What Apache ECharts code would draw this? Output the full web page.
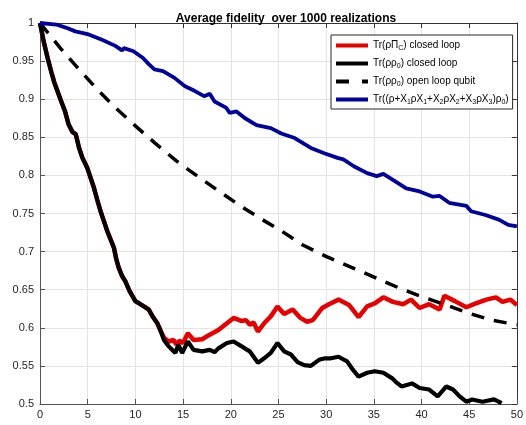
<!DOCTYPE html>
<html>
<head>
<meta charset="utf-8">
<title>Average fidelity</title>
<script src="https://cdn.jsdelivr.net/npm/echarts@6/dist/echarts.min.js"></script>
<style>
  html, body { margin: 0; padding: 0; background: #fff; }
  #echartsMain { width: 526px; height: 425px; }
</style>
</head>
<body>
<div id="echartsMain"></div>
<script>
// x 刻度 / y 刻度
var xTicks = [0, 5, 10, 15, 20, 25, 30, 35, 40, 45, 50];
var yTicks = [0.5, 0.55, 0.6, 0.65, 0.7, 0.75, 0.8, 0.85, 0.9, 0.95, 1];

var seriesNames = [
  "Tr(ρΠC) closed loop",
  "Tr(ρρ0) closed loop",
  "Tr(ρρ0) open loop qubit",
  "Tr((ρ+X1ρX1+X2ρX2+X3ρX3)ρ0)"
];

// 红线与黑线在前段重合
var sharedStart = [
  [0, 1], [0.4, 0.975], [0.8, 0.954], [1.2, 0.935], [1.5, 0.922], [2.2, 0.898],
  [2.6, 0.885], [3.0, 0.867], [3.4, 0.857], [3.75, 0.854], [4.1, 0.836], [4.45, 0.823],
  [4.95, 0.81], [5.3, 0.797], [5.65, 0.784], [6.0, 0.768], [6.35, 0.753], [6.7, 0.74],
  [7.05, 0.727], [7.4, 0.716], [7.75, 0.705], [8.0, 0.69], [8.25, 0.679], [8.6, 0.668],
  [8.95, 0.661], [9.4, 0.648], [10.0, 0.635], [10.4, 0.632], [10.9, 0.628], [11.4, 0.624],
  [11.8, 0.615], [12.3, 0.606]
];

var projClosed = [
  [12.7, 0.595], [13.0, 0.587], [13.5, 0.582], [14.0, 0.584], [14.3, 0.578], [14.6, 0.583],
  [15.0, 0.58], [15.5, 0.593], [16.1, 0.584], [17.0, 0.585], [17.8, 0.591], [18.7, 0.597],
  [19.6, 0.606], [20.3, 0.613], [21.1, 0.609], [21.6, 0.61], [22.0, 0.604], [22.4, 0.607],
  [22.85, 0.595], [23.5, 0.606], [24.2, 0.615], [24.9, 0.628], [25.6, 0.618], [26.5, 0.624],
  [27.3, 0.613], [28.0, 0.608], [28.6, 0.61], [29.6, 0.626], [30.3, 0.631], [31.3, 0.637],
  [32.4, 0.63], [33.4, 0.614], [34.3, 0.628], [35.1, 0.632], [36.0, 0.64], [37.0, 0.634],
  [38.1, 0.631], [38.9, 0.637], [39.8, 0.626], [40.8, 0.631], [41.9, 0.624], [42.4, 0.642],
  [43.5, 0.635], [44.7, 0.627], [45.7, 0.632], [46.8, 0.637], [47.8, 0.64], [48.5, 0.634],
  [49.3, 0.637], [50, 0.63]
];

var fidClosed = [
  [12.7, 0.594], [13.0, 0.584], [13.4, 0.577], [13.7, 0.573], [14.2, 0.567], [14.5, 0.578],
  [14.9, 0.567], [15.5, 0.582], [16.1, 0.571], [17.0, 0.569], [17.8, 0.571], [18.3, 0.568],
  [18.7, 0.573], [19.6, 0.58], [20.3, 0.582], [21.1, 0.576], [21.6, 0.572], [22.0, 0.569],
  [22.4, 0.562], [22.85, 0.554], [23.5, 0.56], [24.2, 0.567], [24.9, 0.58], [25.6, 0.569],
  [26.3, 0.565], [27.0, 0.555], [27.7, 0.551], [28.4, 0.55], [29.25, 0.558], [29.9, 0.56],
  [30.5, 0.56], [31.3, 0.562], [32.2, 0.556], [32.8, 0.545], [33.4, 0.536], [34.3, 0.541],
  [35.1, 0.543], [36.0, 0.541], [36.9, 0.534], [37.4, 0.528], [37.9, 0.523], [39.0, 0.527],
  [39.8, 0.521], [40.8, 0.519], [41.7, 0.51], [42.6, 0.523], [43.3, 0.519], [44.0, 0.51],
  [44.7, 0.503], [45.3, 0.506], [46.4, 0.503], [47.6, 0.506], [48.4, 0.501]
];

var fidOpen = [
  [0, 1], [2.2, 0.966], [4.1, 0.939], [6.0, 0.913], [7.9, 0.889], [10.0, 0.865],
  [12.0, 0.843], [14.3, 0.819], [16.5, 0.799], [18.8, 0.779], [21.0, 0.76], [23.3, 0.742],
  [25.2, 0.728], [27.5, 0.709], [30.1, 0.693], [32.9, 0.678], [35.3, 0.665], [37.7, 0.652],
  [40.2, 0.64], [42.6, 0.63], [45.0, 0.619], [47.4, 0.61], [50, 0.604]
];

var fidRecovered = [
  [0, 1], [1.7, 0.998], [2.7, 0.994], [3.7, 0.989], [5.1, 0.985], [6.5, 0.978],
  [7.9, 0.97], [8.6, 0.964], [8.8, 0.967], [9.8, 0.963], [10.8, 0.954], [11.4, 0.946],
  [12.0, 0.939], [12.9, 0.937], [14.1, 0.928], [15.2, 0.917], [16.2, 0.911], [17.2, 0.904],
  [17.8, 0.907], [18.3, 0.897], [19.5, 0.889], [19.9, 0.882], [20.6, 0.884], [21.5, 0.875],
  [22.7, 0.866], [24.2, 0.862], [25.3, 0.855], [26.7, 0.849], [28.4, 0.836], [29.8, 0.829],
  [31.2, 0.823], [31.8, 0.821], [32.9, 0.812], [34.3, 0.803], [35.3, 0.799], [36.0, 0.802],
  [37.0, 0.794], [38.4, 0.783], [39.8, 0.779], [41.2, 0.772], [41.9, 0.773], [42.9, 0.764],
  [44.7, 0.76], [45.2, 0.753], [46.7, 0.748], [48.1, 0.742], [49.1, 0.735], [50, 0.733]
];

// 图例里的下标写法
var legendRich = {};
legendRich[seriesNames[0]] = "Tr(ρΠ{s|C}) closed loop";
legendRich[seriesNames[1]] = "Tr(ρρ{s|0}) closed loop";
legendRich[seriesNames[2]] = "Tr(ρρ{s|0}) open loop qubit";
legendRich[seriesNames[3]] = "Tr((ρ+X{s|1}ρX{s|1}+X{s|2}ρX{s|2}+X{s|3}ρX{s|3})ρ{s|0})";

function init() {
  var myChart = echarts.init(document.getElementById("echartsMain"));
  var font = "'Liberation Sans', Arial, sans-serif";
  var axisColor = "#555";
  var tickFmt = function (v) { return String(parseFloat(v.toFixed(2))); };

  var baseX = {
    type: "value", min: xTicks[0], max: xTicks[xTicks.length - 1], interval: 5
  };
  var baseY = {
    type: "value", min: yTicks[0], max: yTicks[yTicks.length - 1], interval: 0.05
  };

  var solidIcon = "path://M0,0h32v4h-32z";
  var dashIcon = "path://M0,0h13v4h-13zM26,0h6v4h-6z";

  var option = {
    animation: false,
    backgroundColor: "#fff",
    title: {
      text: "Average fidelity  over 1000 realizations",
      left: 281,
      top: 8,
      textAlign: "center",
      textStyle: { fontFamily: font, fontSize: 12, fontWeight: "bold", color: "#000" }
    },
    grid: { left: 40, right: 5, top: 23, bottom: 21, containLabel: false },
    legend: {
      orient: "vertical",
      left: 331,
      top: 35,
      padding: [4, 4, 3, 5],
      itemGap: 5,
      itemWidth: 32,
      itemHeight: 4,
      borderColor: "#262626",
      borderWidth: 1,
      backgroundColor: "#fff",
      itemStyle: { borderWidth: 0 },
      lineStyle: { type: "solid" },
      data: [
        { name: seriesNames[0], icon: solidIcon },
        { name: seriesNames[1], icon: solidIcon },
        { name: seriesNames[2], icon: dashIcon, itemStyle: { borderWidth: 0 } },
        { name: seriesNames[3], icon: solidIcon }
      ],
      formatter: function (name) { return legendRich[name]; },
      textStyle: {
        fontFamily: font, fontSize: 10, color: "#000", lineHeight: 13,
        rich: {
          s: { fontFamily: font, fontSize: 7, lineHeight: 7, padding: [6, 0, 0, 0], verticalAlign: "top" }
        }
      }
    },
    xAxis: [
      Object.assign({}, baseX, {
        position: "bottom",
        axisLine: { show: true, onZero: false, lineStyle: { color: axisColor, width: 1 } },
        axisTick: { show: true, inside: true, length: 5, lineStyle: { color: axisColor } },
        axisLabel: { fontFamily: font, fontSize: 11, color: "#262626", margin: 5, formatter: tickFmt },
        splitLine: { show: true, lineStyle: { color: "#e3e3e3", width: 1 } }
      }),
      Object.assign({}, baseX, {
        position: "top",
        axisLine: { show: true, onZero: false, lineStyle: { color: "#333", width: 1 } },
        axisTick: { show: true, inside: true, length: 5, lineStyle: { color: "#333" } },
        axisLabel: { show: false },
        splitLine: { show: false }
      })
    ],
    yAxis: [
      Object.assign({}, baseY, {
        position: "left",
        axisLine: { show: true, onZero: false, lineStyle: { color: axisColor, width: 1 } },
        axisTick: { show: true, inside: true, length: 5, lineStyle: { color: axisColor } },
        axisLabel: { fontFamily: font, fontSize: 11, color: "#262626", margin: 6, formatter: tickFmt },
        splitLine: { show: true, lineStyle: { color: "#e3e3e3", width: 1 } }
      }),
      Object.assign({}, baseY, {
        position: "right",
        axisLine: { show: true, onZero: false, lineStyle: { color: "#333", width: 1 } },
        axisTick: { show: true, inside: true, length: 5, lineStyle: { color: "#333" } },
        axisLabel: { show: false },
        splitLine: { show: false }
      })
    ],
    series: [
      {
        name: seriesNames[0], type: "line", symbol: "none", smooth: false,
        data: sharedStart.concat(projClosed),
        lineStyle: { color: "#e60000", width: 4.5 }, itemStyle: { color: "#e60000" }
      },
      {
        name: seriesNames[1], type: "line", symbol: "none", smooth: false,
        data: sharedStart.concat(fidClosed),
        lineStyle: { color: "#000", width: 4.2 }, itemStyle: { color: "#000" }
      },
      {
        name: seriesNames[2], type: "line", symbol: "none", smooth: false,
        data: fidOpen,
        lineStyle: { color: "#000", width: 3.5, type: [13, 10] }, itemStyle: { color: "#000" }
      },
      {
        name: seriesNames[3], type: "line", symbol: "none", smooth: false,
        data: fidRecovered,
        lineStyle: { color: "#00009c", width: 3.8 }, itemStyle: { color: "#00009c" }
      }
    ]
  };

  option && myChart.setOption(option);
}

init();
</script>
</body>
</html>
